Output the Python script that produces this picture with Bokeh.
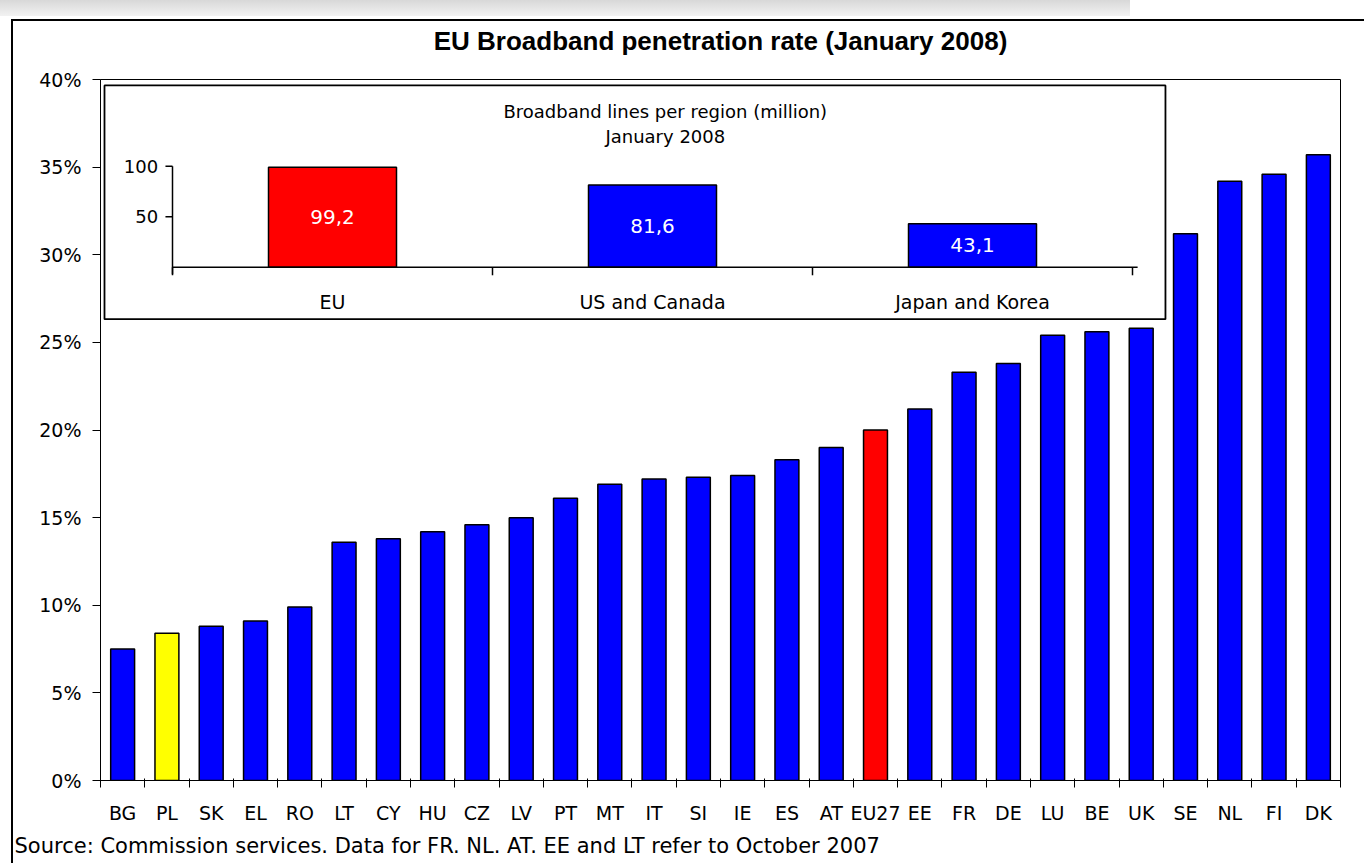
from bokeh.plotting import figure
from bokeh.models import (Range1d, FixedTicker, LinearAxis, PrintfTickFormatter,
                          CustomJSTickFormatter, Title)
from bokeh.core.properties import value
from bokeh.embed import file_html
from bokeh.resources import INLINE

# ---------------- data ----------------
countries = ["BG", "PL", "SK", "EL", "RO", "LT", "CY", "HU", "CZ", "LV", "PT", "MT",
             "IT", "SI", "IE", "ES", "AT", "EU27", "EE", "FR", "DE", "LU", "BE", "UK",
             "SE", "NL", "FI", "DK"]
penetration = [7.5, 8.4, 8.8, 9.1, 9.9, 13.6, 13.8, 14.2, 14.6, 15.0, 16.1, 16.9,
               17.2, 17.3, 17.4, 18.3, 19.0, 20.0, 21.2, 23.3, 23.8, 25.4, 25.6, 25.8,
               31.2, 34.2, 34.6, 35.7]
y_ticks = [0, 5, 10, 15, 20, 25, 30, 35, 40]

regions = ["EU", "US and Canada", "Japan and Korea"]
lines_million = [99.2, 81.6, 43.1]
inset_ticks = [50, 100]

title_text = "EU Broadband penetration rate (January 2008)"
inset_title = ["Broadband lines per region (million)", "January 2008"]
source_text = "Source: Commission services. Data for FR. NL. AT. EE and LT refer to October 2007"

BLUE, RED, YELLOW = "#0000FF", "#FF0000", "#FFFF00"
bar_colors = [YELLOW if c == "PL" else RED if c == "EU27" else BLUE for c in countries]
inset_colors = [RED, BLUE, BLUE]

FONT = "DejaVu Sans"

# ---------------- figure ----------------
W, H = 1364, 863
p = figure(width=W, height=H, output_backend="svg", toolbar_location=None,
           x_range=Range1d(0, len(countries)), y_range=Range1d(0, 40),
           x_axis_type=None, y_axis_type=None,
           min_border_left=100, min_border_right=24, min_border_top=78, min_border_bottom=83)
p.border_fill_color = None
p.background_fill_color = "white"
p.outline_line_color = "black"
p.outline_line_width = 1
p.styles = {
    "background": ("linear-gradient(#000,#000) 11px 19px / 2px calc(100% - 19px) no-repeat, "
                   "linear-gradient(#000,#000) 11px 19px / calc(100% - 11px) 2px no-repeat, "
                   "linear-gradient(#d8d8d8,#f2f2f2) 0 0 / 1130px 16px no-repeat, #ffffff")
}

# title
p.title.text = title_text
p.title.align = "center"
p.title.text_font = "Liberation Sans"
p.title.text_font_style = "bold"
p.title.text_font_size = "26px"
p.title.text_color = "black"
p.title.standoff = 47

# y axis
yaxis = LinearAxis(ticker=FixedTicker(ticks=y_ticks, minor_ticks=[]),
                   formatter=PrintfTickFormatter(format="%d%%"))
yaxis.axis_line_color = "black"
yaxis.major_tick_line_color = "black"
yaxis.major_tick_out = 8
yaxis.major_tick_in = 0
yaxis.major_label_standoff = 11
yaxis.major_label_text_font = FONT
yaxis.major_label_text_font_size = "19px"
yaxis.major_label_text_color = "black"
p.add_layout(yaxis, "left")

# x axis: labels at centres, ticks between categories
centres = [i + 0.5 for i in range(len(countries))]
bounds = list(range(len(countries) + 1))
xaxis = LinearAxis(ticker=FixedTicker(ticks=centres, minor_ticks=bounds),
                   formatter=CustomJSTickFormatter(args=dict(names=countries),
                                                   code="return names[Math.floor(tick)] || ''"))
xaxis.axis_line_color = "black"
xaxis.major_tick_out = 0
xaxis.major_tick_in = 0
xaxis.minor_tick_line_color = "black"
xaxis.minor_tick_out = 7
xaxis.minor_tick_in = 2
xaxis.major_label_standoff = 14
xaxis.major_label_text_font = FONT
xaxis.major_label_text_font_size = "19px"
xaxis.major_label_text_color = "black"
p.add_layout(xaxis, "below")

src = Title(text=source_text, align="left", offset=-86, standoff=10,
            text_font=FONT, text_font_size="21px", text_font_style="normal",
            text_color="black")
p.add_layout(src, "below")

# grid
p.ygrid.ticker = FixedTicker(ticks=y_ticks)
p.ygrid.grid_line_color = "black"
p.ygrid.grid_line_width = 1
p.xgrid.grid_line_color = None

# main bars
p.vbar(x=centres, top=penetration, width=0.54, bottom=0,
       fill_color=bar_colors, line_color="black", line_width=1.5)

# ---------------- inset (own scales) ----------------
p.extra_x_ranges = {"ix": Range1d(-0.225, 3.65)}
p.extra_y_ranges = {"iy": Range1d(-508.9, 186.1)}
I = dict(x_range_name="ix", y_range_name="iy")

n = len(regions)
ic = [i + 0.5 for i in range(n)]

# inset frame
p.quad(left=[-0.2125], right=[3.103], bottom=[-51.5], top=[180.2],
       fill_color="white", line_color="black", line_width=1.8, **I)

# inset bars
p.vbar(x=ic, top=lines_million, width=0.4, bottom=0,
       fill_color=inset_colors, line_color="black", line_width=1.5, **I)

# inset axes
p.segment(x0=[0], y0=[-7], x1=[0], y1=[max(inset_ticks)], line_color="black", line_width=1.5, **I)
p.segment(x0=[0], y0=[0], x1=[n + 0.016], y1=[0], line_color="black", line_width=1.5, **I)
p.segment(x0=[-0.022] * len(inset_ticks), y0=inset_ticks, x1=[0] * len(inset_ticks), y1=inset_ticks,
          line_color="black", line_width=1.5, **I)
bx = [float(i) for i in range(n + 1)]
p.segment(x0=bx, y0=[0] * len(bx), x1=bx, y1=[-8] * len(bx),
          line_color="black", line_width=1.5, **I)

# inset tick labels
p.text(x=[-0.045] * len(inset_ticks), y=inset_ticks, text=[str(t) for t in inset_ticks],
       text_font=value(FONT), text_font_size="18px", text_align="right",
       text_baseline="middle", text_color="black", **I)

# inset value labels
p.text(x=ic, y=[v / 2 for v in lines_million],
       text=[f"{v:.1f}".replace(".", ",") for v in lines_million],
       text_font=value(FONT), text_font_size="20px", text_align="center",
       text_baseline="middle", text_color="white", **I)

# inset category labels
p.text(x=ic, y=[-34] * n, text=regions, text_font=value(FONT), text_font_size="19px",
       text_align="center", text_baseline="middle", text_color="black", **I)

# inset title
p.text(x=[1.54, 1.54], y=[154.5, 129.7], text=inset_title, text_font=value(FONT),
       text_font_size="18px", text_align="center", text_baseline="middle",
       text_color="black", **I)

open("out.html", "w").write(file_html(p, INLINE))
